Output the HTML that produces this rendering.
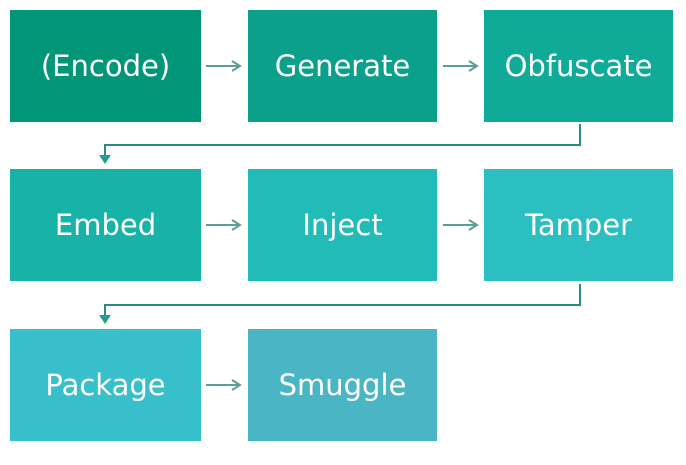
<!DOCTYPE html>
<html><head><style>
body{margin:0;width:686px;height:465px;background:#fff;position:relative;font-family:"DejaVu Sans","Liberation Sans",sans-serif;overflow:hidden}
.b{position:absolute;width:191px;height:112px;color:#fff;font-size:29px;display:flex;align-items:center;justify-content:center;letter-spacing:0}
</style></head><body>
<div class="b" style="left:10px;top:10px;background:#009677">(Encode)</div>
<div class="b" style="left:248px;top:10px;width:189px;background:#0aa08a">Generate</div>
<div class="b" style="left:484px;top:10px;width:189px;background:#0fab98">Obfuscate</div>
<div class="b" style="left:10px;top:169px;background:#17b3a8">Embed</div>
<div class="b" style="left:248px;top:169px;width:189px;background:#21bbb8">Inject</div>
<div class="b" style="left:484px;top:169px;width:189px;background:#2bbfc2">Tamper</div>
<div class="b" style="left:10px;top:329px;background:#38bfcc">Package</div>
<div class="b" style="left:248px;top:329px;width:189px;background:#4ab5c4">Smuggle</div>
<svg width="686" height="465" style="position:absolute;left:0;top:0" fill="none" stroke-width="2">
<g stroke="#5a9e98">
<path d="M206 66H240M232 61l8 5-8 5"/>
<path d="M443 66H477M469 61l8 5-8 5"/>
<path d="M206 225H240M232 220l8 5-8 5"/>
<path d="M443 225H477M469 220l8 5-8 5"/>
<path d="M206 385H240M232 380l8 5-8 5"/>
</g>
<g stroke="#2a8a84">
<path d="M580 124V145H105V160"/>
<path d="M580 284V305H105V320"/>
</g>
<path d="M99 155L105 164L111 155Z" fill="#2a9a90"/>
<path d="M99 315L105 324L111 315Z" fill="#2a9a90"/>
</svg>
</body></html>
